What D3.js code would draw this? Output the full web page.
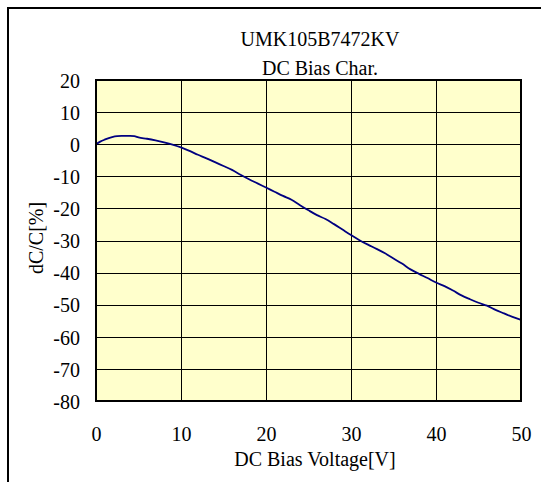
<!DOCTYPE html>
<html>
<head>
<meta charset="utf-8">
<script src="https://cdn.jsdelivr.net/npm/d3@7"></script>
<style>
  html, body { margin: 0; padding: 0; background: #fff; }
  text { font-family: "Liberation Serif", "Times New Roman", serif; fill: #000; }
</style>
</head>
<body>
<svg id="chart" width="541" height="482"></svg>
<script>
const titleLines = ["UMK105B7472KV", "DC Bias Char."];
const xLabel = "DC Bias Voltage[V]";
const yLabel = "dC/C[%]";
const xTicks = [0, 10, 20, 30, 40, 50];
const yTicks = [20, 10, 0, -10, -20, -30, -40, -50, -60, -70, -80];

const voltage = [0, 0.5, 1, 1.5, 2, 2.5, 3, 3.5, 4, 4.5, 5, 6, 7, 8, 9, 10,
  11, 12, 13, 14, 15, 16, 17, 18, 19, 20, 21, 22, 23, 24, 25, 26, 27, 28, 29, 30,
  31, 32, 33, 34, 35, 36, 37, 38, 39, 40, 41, 42, 43, 44, 45, 46, 47, 48, 49, 50];
const dCC = [0, 0.8, 1.4, 1.9, 2.3, 2.5, 2.6, 2.6, 2.6, 2.5, 2.1, 1.7, 1.2, 0.6, -0.1, -1.0,
  -2.1, -3.3, -4.4, -5.6, -6.8, -8.0, -9.5, -10.9, -12.2, -13.5, -14.8, -16.1, -17.3, -19.0, -20.6, -22.1, -23.3, -24.9, -26.6, -28.3,
  -29.9, -31.3, -32.6, -34.0, -35.6, -37.2, -39.0, -40.4, -41.7, -43.1, -44.2, -45.6, -47.1, -48.3, -49.4, -50.3, -51.6, -52.7, -53.8, -54.7];

(function () {
const svg = d3.select("#chart");
const fs = 20;

// outer frame (extends beyond view on right/bottom)
svg.append("rect").attr("x", 8).attr("y", 8).attr("width", 700).attr("height", 700)
  .attr("fill", "none").attr("stroke", "#000").attr("stroke-width", 2);

const pl = 96, pr = 521, pt = 80, pb = 401;
const x = d3.scaleLinear().domain([0, 50]).range([pl, pr]);
const y = d3.scaleLinear().domain([-80, 20]).range([pb, pt]);

svg.append("rect").attr("x", pl).attr("y", pt).attr("width", pr - pl).attr("height", pb - pt)
  .attr("fill", "#FFFFCC");

// gridlines
svg.append("g").selectAll("line").data(yTicks).join("line")
  .attr("x1", pl).attr("x2", pr).attr("y1", d => Math.round(y(d)) + 0.5).attr("y2", d => Math.round(y(d)) + 0.5)
  .attr("stroke", "#000").attr("stroke-width", 1);
svg.append("g").selectAll("line").data(xTicks).join("line")
  .attr("y1", pt).attr("y2", pb).attr("x1", d => Math.round(x(d)) + 0.5).attr("x2", d => Math.round(x(d)) + 0.5)
  .attr("stroke", "#000").attr("stroke-width", 1);

// tick labels via d3 axes (no lines)
const yAxis = svg.append("g").attr("transform", `translate(${pl},0)`)
  .call(d3.axisLeft(y).tickValues(yTicks).tickSize(0).tickPadding(16).tickFormat(d => String(d)));
yAxis.select(".domain").remove();
yAxis.selectAll("text").attr("font-size", fs).attr("font-family", "Liberation Serif").attr("dy", "0.36em");

const xAxis = svg.append("g").attr("transform", `translate(0,${pb})`)
  .call(d3.axisBottom(x).tickValues(xTicks).tickSize(0).tickPadding(26).tickFormat(d => String(d)));
xAxis.select(".domain").remove();
xAxis.selectAll("text").attr("font-size", fs).attr("font-family", "Liberation Serif").attr("dy", "0.71em");

// curve
const line = d3.line().x((d, i) => x(voltage[i])).y(d => y(d)).curve(d3.curveMonotoneX);
svg.append("path").datum(dCC).attr("d", line).attr("fill", "none")
  .attr("stroke", "#000080").attr("stroke-width", 1.8);

// plot border
svg.append("rect").attr("x", pl).attr("y", pt).attr("width", pr - pl).attr("height", pb - pt)
  .attr("fill", "none").attr("stroke", "#000").attr("stroke-width", 2);

// titles
svg.append("text").attr("x", 320).attr("y", 46).attr("text-anchor", "middle").attr("font-size", fs).text(titleLines[0]);
svg.append("text").attr("x", 320).attr("y", 75).attr("text-anchor", "middle").attr("font-size", fs).text(titleLines[1]);
svg.append("text").attr("x", 315).attr("y", 466).attr("text-anchor", "middle").attr("font-size", fs).text(xLabel);
svg.append("text").attr("transform", "translate(43,238) rotate(-90)").attr("text-anchor", "middle").attr("font-size", fs).text(yLabel);
})();
</script>
</body>
</html>
